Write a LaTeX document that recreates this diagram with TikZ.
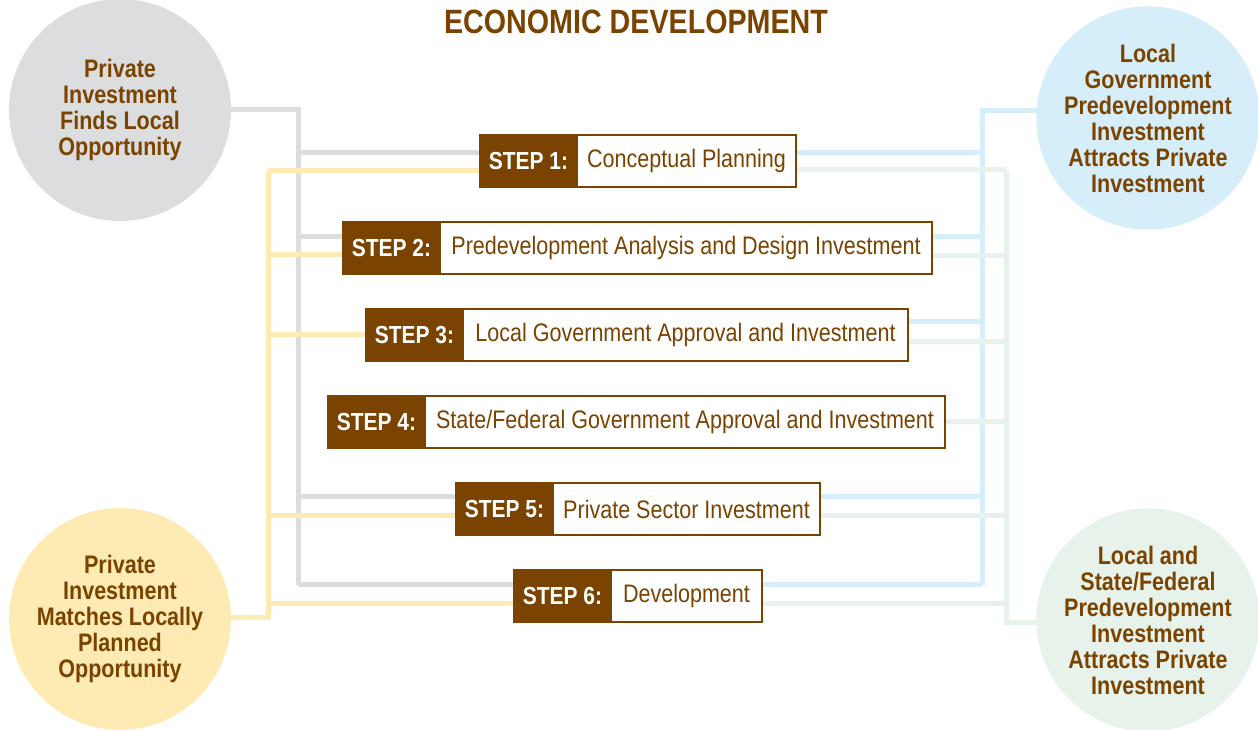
\documentclass[tikz,border=0pt]{standalone}
\usepackage{fontspec}
\setmainfont{Liberation Sans}[FakeStretch=0.85]
\usetikzlibrary{positioning,calc,backgrounds}
\definecolor{ecobrown}{HTML}{7B4300}
\definecolor{hubgray}{HTML}{DCDDDF}
\definecolor{hubyellow}{HTML}{FEEBB4}
\definecolor{hubblue}{HTML}{D6EDFA}
\definecolor{hubgreen}{HTML}{E7F2EA}
\tikzset{
  hub/.style={circle, minimum size=166.5pt, inner sep=0pt, align=center,
    text=ecobrown, font=\bfseries\fontsize{19}{19.5}\selectfont},
  tag/.style={fill=ecobrown, draw=ecobrown, line width=2pt, text=white,
    font=\bfseries\fontsize{18.5}{20}\selectfont, minimum width=72.75pt,
    minimum height=39pt, inner sep=0pt, outer sep=0pt, anchor=west},
  task/.style={fill=white, draw=ecobrown, line width=2pt, text=ecobrown,
    font=\fontsize{19}{20}\selectfont, minimum height=39pt, inner sep=0pt,
    outer sep=0pt},
  bar/.style={line width=3.75pt}
}
\begin{document}
\begin{tikzpicture}[x=0.75pt,y=-0.75pt]
  \useasboundingbox (0,0) rectangle (1258,730);
  \node[text=ecobrown, font=\bfseries\fontsize{25.3}{27}\selectfont] (title) at (636,22) {ECONOMIC DEVELOPMENT};

  % outcome circles
  \node[hub, fill=hubgray] (finds) at (120,110) {Private\\Investment\\Finds Local\\Opportunity};
  \node[hub, fill=hubyellow] (matches) at (120,619) {Private\\Investment\\Matches Locally\\Planned\\Opportunity};
  \node[hub, fill=hubblue] (localgov) at (1148,118) {Local\\Government\\Predevelopment\\Investment\\Attracts Private\\Investment};
  \node[hub, fill=hubgreen] (stategov) at (1148,620) {Local and\\State/Federal\\Predevelopment\\Investment\\Attracts Private\\Investment};

  % steps
  \node[tag] (tag1) at (480,161) {STEP 1:};
  \node[task, minimum width=164.25pt, right=0pt of tag1] (txt1) {Conceptual Planning};
  \node[tag] (tag2) at (343,248) {STEP 2:};
  \node[task, minimum width=369pt, right=0pt of tag2] (txt2) {Predevelopment Analysis and Design Investment};
  \node[tag] (tag3) at (366,335) {STEP 3:};
  \node[task, minimum width=333.75pt, right=0pt of tag3] (txt3) {Local Government Approval and Investment};
  \node[tag] (tag4) at (328,422) {STEP 4:};
  \node[task, minimum width=390pt, right=0pt of tag4] (txt4) {State/Federal Government Approval and Investment};
  \node[tag] (tag5) at (456,509) {STEP 5:};
  \node[task, minimum width=200.25pt, right=0pt of tag5] (txt5) {Private Sector Investment};
  \node[tag] (tag6) at (514,596) {STEP 6:};
  \node[task, minimum width=113.25pt, right=0pt of tag6] (txt6) {Development};

  % buses
  \coordinate (gbus) at (298,0);
  \coordinate (ybus) at (268,0);
  \coordinate (bbus) at (982,0);
  \coordinate (ebus) at (1006,0);
  \coordinate (bin) at ($(localgov.center)+(0,-7)$);
  \coordinate (ein) at ($(stategov.center)+(0,3)$);
  \coordinate (yin) at ($(matches.center)+(0,-1)$);

  \foreach \s/\dy in {1/-8,2/-11,5/-12,6/-11}
    \coordinate (gp\s) at ($(tag\s.west)+(0,\dy)$);
  \foreach \s/\dy in {1/10,2/7,3/0,5/7,6/8}
    \coordinate (yp\s) at ($(tag\s.west)+(0,\dy)$);
  \foreach \s/\dy in {1/-8,2/-11,3/-13,5/-12,6/-11}
    \coordinate (bp\s) at ($(txt\s.east)+(0,\dy)$);
  \foreach \s/\dy in {1/9,2/8,3/7,4/0,5/7,6/8}
    \coordinate (ep\s) at ($(txt\s.east)+(0,\dy)$);

  \begin{pgfonlayer}{background}
    \draw[bar, hubgray] (finds.center) -- (finds.center -| gbus) -- (gp6 -| gbus);
    \foreach \s in {1,2,5,6}
      \draw[bar, hubgray] (gp\s -| gbus) -- (gp\s);
    \draw[bar, hubyellow] (yin) -- (yin -| ybus) -- (yp1 -| ybus);
    \foreach \s in {1,2,3,5,6}
      \draw[bar, hubyellow] (yp\s -| ybus) -- (yp\s);
    \draw[bar, hubblue] (bin) -- (bin -| bbus) -- (bp6 -| bbus);
    \foreach \s in {1,2,3,5,6}
      \draw[bar, hubblue] (bp\s -| bbus) -- (bp\s);
    \draw[bar, hubgreen] (ein) -- (ein -| ebus) -- (ep1 -| ebus);
    \foreach \s in {1,2,3,4,5,6}
      \draw[bar, hubgreen] (ep\s -| ebus) -- (ep\s);
  \end{pgfonlayer}
\end{tikzpicture}
\end{document}
